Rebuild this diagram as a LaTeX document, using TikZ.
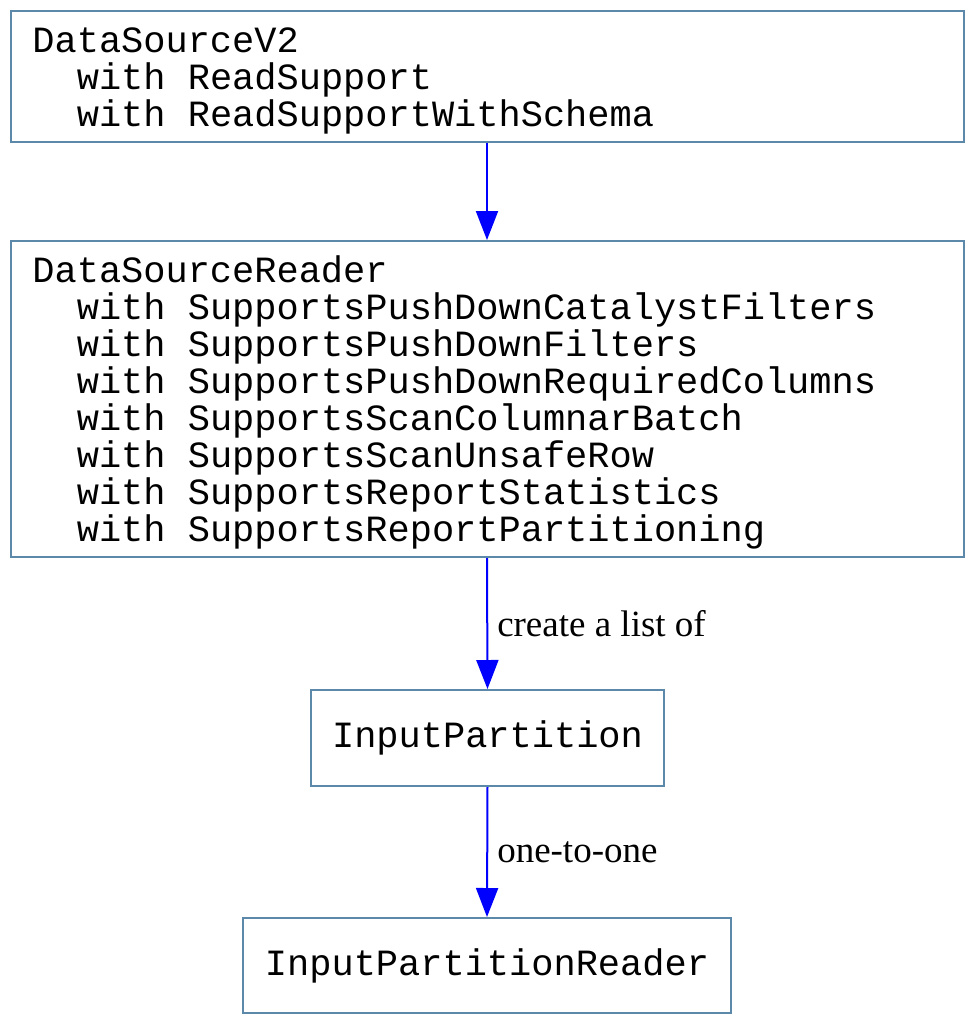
\documentclass[tikz,border=0pt]{standalone}
\usepackage{fontspec}
\setmainfont{Liberation Serif}
\setmonofont{Liberation Mono}
\usetikzlibrary{arrows.meta}
\definecolor{boxblue}{RGB}{92,136,170}
\definecolor{arrowblue}{RGB}{0,0,255}
\tikzset{
  px/.style={x=0.5pt,y=-0.5pt},
  box/.style={draw=boxblue,line width=1pt,rectangle,inner sep=0pt,
    font=\ttfamily\fontsize{18.5}{18.5}\selectfont},
  boxtext/.style={anchor=west,inner sep=0pt,align=left,
    font=\ttfamily\fontsize{18.5}{18.5}\selectfont},
  flow/.style={draw=arrowblue,line width=1pt,-{Triangle[length=14.5pt,width=11pt]}},
  elabel/.style={font=\fontsize{18.5}{18.5}\selectfont,inner sep=0pt,anchor=west,xshift=4.5pt}
}
\begin{document}
\begin{tikzpicture}[px]
\useasboundingbox (0,0) rectangle (975,1025);
\node[box,minimum width=476.5pt,minimum height=65.5pt] (ds) at (487,76.5) {};
\node[boxtext] (dst) at (32,81)
{DataSourceV2\\
\ \ with ReadSupport\\
\ \ with ReadSupportWithSchema};
\node[box,minimum width=476.5pt,minimum height=158pt] (dr) at (487,399) {};
\node[boxtext] (drt) at (32,402.5)
{DataSourceReader\\
\ \ with SupportsPushDownCatalystFilters\\
\ \ with SupportsPushDownFilters\\
\ \ with SupportsPushDownRequiredColumns\\
\ \ with SupportsScanColumnarBatch\\
\ \ with SupportsScanUnsafeRow\\
\ \ with SupportsReportStatistics\\
\ \ with SupportsReportPartitioning};
\node[box,minimum width=176.5pt,minimum height=48pt] (ip) at (487.5,738) {InputPartition};
\node[box,minimum width=244pt,minimum height=47.5pt] (ipr) at (487,965.5) {InputPartitionReader};
\draw[flow] (ds.south) -- (dr.north);
\draw[flow] (dr.south) -- node[elabel] {create a list of} (ip.north);
\draw[flow] (ip.south) -- node[elabel] {one-to-one} (ipr.north);
\end{tikzpicture}
\end{document}
